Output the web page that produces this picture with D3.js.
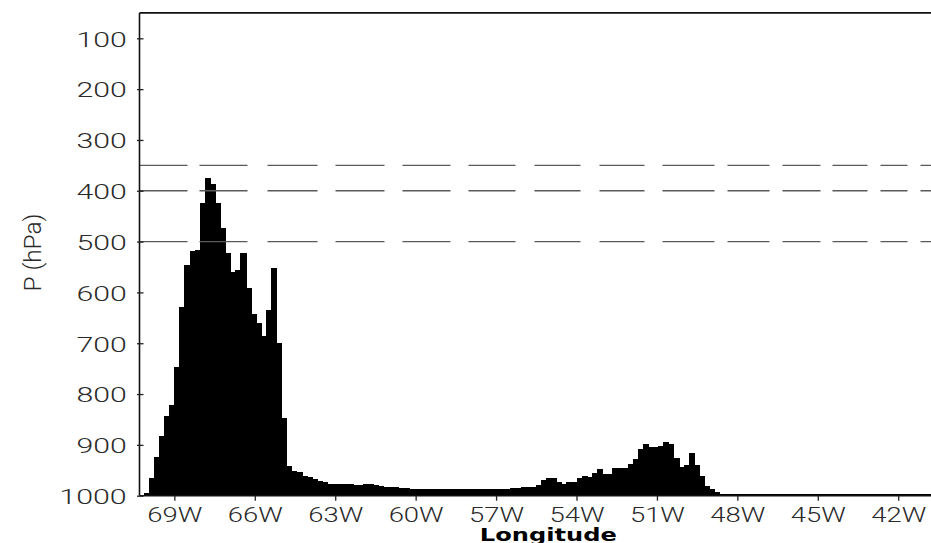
<!DOCTYPE html>
<html>
<head>
<meta charset="utf-8">
<script src="https://cdn.jsdelivr.net/npm/d3@7"></script>
<style>
  html, body { margin: 0; padding: 0; background: #fff; overflow: hidden; }
  svg { display: block; }
</style>
</head>
<body>
<svg id="chart" width="931" height="543"></svg>
<script>
// Cross-section: pressure level (hPa) of the field top along longitude, regular 0.19-degree grid
const lonStart = -70.05;   // centre of the first grid column (degrees east)
const lonStep = 0.19;      // grid spacing (degrees)

const pressure = [
  994, 966, 923, 882, 843, 821, 747, 628, 547, 518,
  516, 425, 375, 387, 425, 474, 523, 559, 556, 523,
  592, 643, 661, 686, 635, 551, 699, 848, 942, 951,
  953, 961, 964, 968, 971, 974, 977, 977, 977, 977,
  977, 979, 979, 976, 976, 978, 980, 983, 983, 983,
  985, 985, 987, 987, 987, 987, 987, 987, 987, 987,
  987, 987, 987, 987, 987, 987, 987, 987, 987, 987,
  987, 987, 984, 984, 982, 982, 982, 979, 970, 966,
  966, 974, 976, 974, 974, 965, 962, 964, 956, 947,
  957, 957, 945, 945, 945, 938, 927, 909, 898, 904,
  904, 902, 895, 899, 925, 944, 939, 915, 939, 961,
  981, 987, 992, 996, 996, 996, 996, 996, 996, 996,
  996, 996, 996, 996, 996, 996, 996, 996, 996, 996,
  996, 996, 996, 996, 996, 996, 996, 996, 996, 996,
  996, 996, 996, 996, 996, 996, 996, 996, 996, 996,
  996, 996, 996, 996, 996, 996
];

const lonTicks = [-69, -66, -63, -60, -57, -54, -51, -48, -45, -42];
const pTicks = [100, 200, 300, 400, 500, 600, 700, 800, 900, 1000];
const refLevels = [350, 400, 500];

const svg = d3.select("#chart");
const plotLeft = 139.5, plotTop = 12.9, plotBottom = 495.7;

const x = d3.scaleLinear().domain([-70.3, -40]).range([plotLeft, plotLeft + 30.3 * 26.81]);
const y = d3.scaleLinear().domain([50, 1000]).range([plotTop, plotBottom]);

const plotW = x.range()[1] - plotLeft;
const labelFont = "Roboto, 'DejaVu Sans', sans-serif";

svg.append("defs").append("clipPath").attr("id", "plot")
  .append("rect").attr("x", plotLeft).attr("y", plotTop).attr("width", plotW).attr("height", plotBottom - plotTop);

// bars (slightly widened so neighbouring columns meet without seams)
const cols = pressure.map((p, i) => ({ lon: lonStart + i * lonStep, p }));
svg.append("g").attr("clip-path", "url(#plot)").attr("shape-rendering", "crispEdges")
  .selectAll("rect").data(cols).join("rect")
  .attr("x", d => x(d.lon - lonStep / 2))
  .attr("width", d => x(d.lon + lonStep / 2) - x(d.lon - lonStep / 2) + 1)
  .attr("y", d => y(d.p))
  .attr("height", d => y(1000) - y(d.p))
  .attr("fill", "#000");

// reference levels
svg.append("g").selectAll("line").data(refLevels).join("line")
  .attr("x1", plotLeft).attr("x2", 931)
  .attr("y1", d => y(d)).attr("y2", d => y(d))
  .attr("stroke", "#5a5a5a").attr("stroke-width", 1.4)
  .attr("stroke-dasharray", "48,12,48,20,50,18,49,18,48,18,47,19,46,19,45,18,52,13,42,13,38,12,35,13,27,13,40,20");

// frame
const frame = svg.append("g").attr("stroke", "#111").attr("fill", "none");
frame.append("line").attr("x1", plotLeft).attr("x2", 931).attr("y1", plotTop).attr("y2", plotTop).attr("stroke-width", 1.8);
frame.append("line").attr("x1", plotLeft).attr("x2", plotLeft).attr("y1", plotTop).attr("y2", plotBottom).attr("stroke-width", 1.6);
frame.append("line").attr("x1", plotLeft).attr("x2", 931).attr("y1", plotBottom).attr("y2", plotBottom).attr("stroke-width", 1.6);

// y axis
const yAxis = d3.axisLeft(y).tickValues(pTicks).tickSize(0).tickFormat(d => d);
const gy = svg.append("g").attr("transform", `translate(${plotLeft},0)`).call(yAxis);
gy.select(".domain").remove();
gy.selectAll(".tick line").remove();
gy.selectAll(".tick").append("line")
  .attr("x1", -2.5).attr("x2", 4).attr("stroke", "#222").attr("stroke-width", 1.3);
gy.selectAll(".tick text")
  .attr("x", -12.8).attr("dy", null).attr("y", 7.8)
  .attr("font-family", labelFont).attr("font-weight", 300).attr("font-size", 21)
  .attr("fill", "#2a2a2a").attr("text-anchor", "end")
  .attr("textLength", function() { return this.textContent.length * 17.1 - 1; })
  .attr("lengthAdjust", "spacingAndGlyphs");

// x axis
const xAxis = d3.axisBottom(x).tickValues(lonTicks).tickSize(0)
  .tickFormat(d => Math.abs(d) + "W");
const gx = svg.append("g").attr("transform", `translate(0,${plotBottom})`).call(xAxis);
gx.select(".domain").remove();
gx.selectAll(".tick line").remove();
gx.selectAll(".tick").append("line")
  .attr("y1", 0).attr("y2", 5).attr("stroke", "#222").attr("stroke-width", 1.3);
gx.selectAll(".tick text")
  .attr("y", 26.8).attr("dy", null)
  .attr("font-family", labelFont).attr("font-weight", 300).attr("font-size", 21)
  .attr("fill", "#2a2a2a").attr("text-anchor", "middle")
  .attr("textLength", 55).attr("lengthAdjust", "spacingAndGlyphs");

// axis titles
svg.append("text")
  .attr("x", 548.3).attr("y", 541)
  .attr("text-anchor", "middle")
  .attr("font-family", "DejaVu Sans").attr("font-weight", "bold").attr("font-size", 18.5)
  .attr("textLength", 137).attr("lengthAdjust", "spacingAndGlyphs")
  .attr("fill", "#000")
  .text("Longitude");

svg.append("text")
  .attr("transform", "translate(41,252.5) rotate(-90)")
  .attr("text-anchor", "middle")
  .attr("font-family", labelFont).attr("font-weight", 300).attr("font-size", 23)
  .attr("textLength", 78).attr("lengthAdjust", "spacingAndGlyphs")
  .attr("fill", "#2a2a2a")
  .text("P (hPa)");
</script>
</body>
</html>
